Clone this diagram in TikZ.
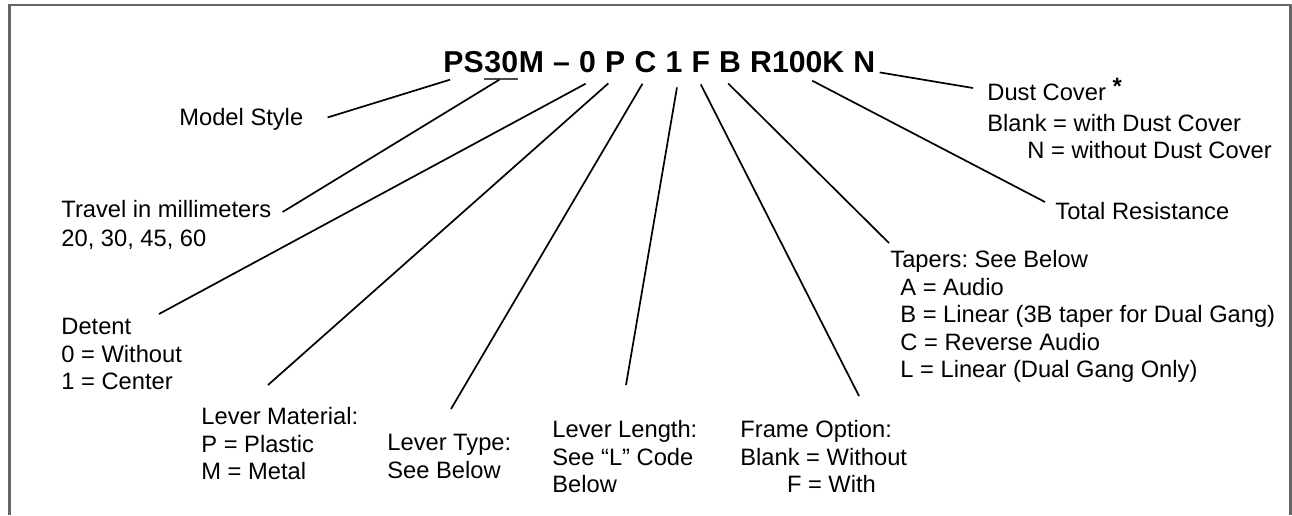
\documentclass[tikz,border=0pt]{standalone}
\usepackage{fontspec}
\setmainfont{Liberation Sans}
\usetikzlibrary{positioning}
\frenchspacing

\begin{document}
\begin{tikzpicture}[x=0.5pt,y=-0.5pt,node distance=4.2pt,
		code/.style={inner sep=0pt,font=\bfseries\fontsize{15.1}{18}\selectfont},
		lbl/.style={anchor=north west,align=left,inner sep=0pt,font=\fontsize{11.85}{13.75}\selectfont},
		lead/.style={line width=0.85pt},]
		\useasboundingbox (0,0) rectangle (1292,515);
		\draw [black!60,line width=1.2pt] (9.5,515) -- (9.5,5) -- (1290.5,5) -- (1290.5,515);

		% the part number
		\node (ps) [code,anchor=base west] at (443,72) {PS};
		\node (thirty) [code,base right=0pt of ps] {30};
		\node (mm) [code,base right=0pt of thirty] {M};
		\node (dash) [code,base right=of mm] {–};
		\node (det) [code,base right=of dash] {0};
		\node (mat) [code,base right=of det] {P};
		\node (typ) [code,base right=of mat] {C};
		\node (len) [code,base right=of typ] {1};
		\node (frm) [code,base right=of len] {F};
		\node (tap) [code,base right=of frm] {B};
		\node (res) [code,base right=of tap] {R100K};
		\node (dst) [code,base right=of res] {N};
		\draw [black!70,line width=1pt] ([shift={(0,6)}]thirty.south west) -- ([shift={(0,6)}]thirty.south east);

		% the labels
		\node (style) [lbl] at (179,108) {Model Style};
		\node (trav) [lbl] at (61,200) {Travel in millimeters\\[0.8pt]20, 30, 45, 60};
		\node (detent) [lbl] at (61,318) {Detent\\0 = Without\\1 = Center};
		\node (lmat) [lbl] at (201,407) {Lever Material:\\P = Plastic\\M = Metal};
		\node (ltype) [lbl] at (387,434) {Lever Type:\\See Below};
		\node (llen) [lbl] at (552,420) {Lever Length:\\See “L” Code\\Below};
		\node (frame) [lbl] at (740,420) {Frame Option:\\Blank = Without\\\hspace*{23.3pt}F = With};
		\node (taper) [lbl] at (890,250) {Tapers: See Below\\\hspace*{5pt}A = Audio\\\hspace*{5pt}B = Linear (3B taper for Dual Gang)\\\hspace*{5pt}C = Reverse Audio\\\hspace*{5pt}L = Linear (Dual Gang Only)};
		\node (dust) [lbl] at (987,84) {Dust Cover \raisebox{3pt}[0pt][0pt]{\bfseries *}\\[1.5pt]Blank = with Dust Cover\\\hspace*{20pt}N = without Dust Cover};
		\node (total) [lbl] at (1055,202) {Total Resistance};

		% connect them
		\draw [lead] ([shift={(7,7)}]ps.south west) -- ([shift={(24,-2)}]style.east);
		\draw [lead] ([shift={(-2,7)}]thirty.south) -- ([shift={(11,12)}]trav.north east);
		\draw [lead] ([shift={(-2,11)}]det.south) -- ([shift={(98,-4)}]detent.north west);
		\draw [lead] ([shift={(-7,11)}]mat.south) -- ([shift={(67,-22)}]lmat.north west);
		\draw [lead] ([shift={(-3,11)}]typ.south) -- ([shift={(64,-25)}]ltype.north west);
		\draw [lead] ([shift={(3,15)}]len.south) -- ([shift={(74,-35)}]llen.north west);
		\draw [lead] ([shift={(0,12)}]frm.south) -- ([shift={(119,-24)}]frame.north west);
		\draw [lead] ([shift={(-2,11)}]tap.south) -- ([shift={(-1,-7)}]taper.north west);
		\draw [lead] ([shift={(15,8)}]res.south) -- ([shift={(-10,0)}]total.north west);
		\draw [lead] ([shift={(4,0)}]dst.south east) -- ([shift={(-14,4)}]dust.north west);
	\end{tikzpicture}
\end{document}
